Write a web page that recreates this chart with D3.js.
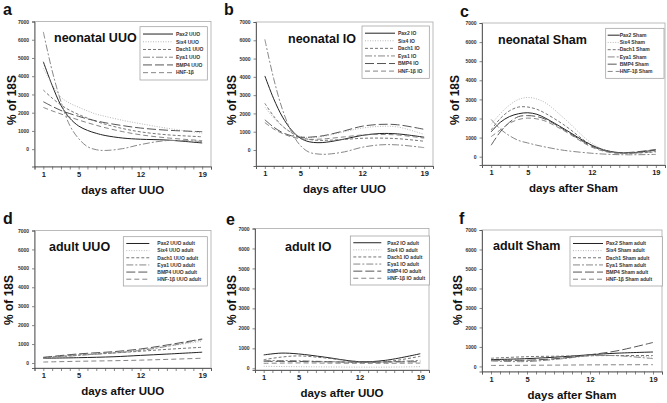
<!DOCTYPE html>
<html><head><meta charset="utf-8">
<script src="https://cdn.jsdelivr.net/npm/d3@7"></script>
<style>
html,body{margin:0;padding:0;background:#fff;}
svg{display:block;font-family:"Liberation Sans",Arial,sans-serif;}
</style></head>
<body><svg id="c" width="667" height="403"></svg>
<script>
// ---------- data ----------
const genes = ["Pax2","Six4","Dach1","Eya1","BMP4","HNF-1β"];
const xTicks = [1,5,12,19];
const yTicks = [0,1000,2000,3000,4000,5000,6000,7000];

const titles = ["neonatal UUO","neonatal IO","neonatal Sham","adult UUO","adult IO","adult Sham"];
const letters = ["a","b","c","d","e","f"];
const xLabels = ["days after UUO","days after UUO","days after Sham","days after UUO","days after UUO","days after Sham"];

const legendA = ["Pax2 UUO","Six4 UUO","Dach1 UUO","Eya1 UUO","BMP4 UUO","HNF-1β"];
const legendB = ["Pax2 IO","Six4 IO","Dach1 IO","Eya1 IO","BMP4 IO","HNF-1β IO"];
const legendC = ["Pax2 Sham","Six4 Sham","Dach1 Sham","Eya1 Sham","BMP4 Sham","HNF-1β Sham"];
const legendD = ["Pax2 UUO adult","Six4 UUO adult","Dach1 UUO adult","Eya1 UUO adult","BMP4 UUO adult","HNF-1β UUO adult"];
const legendE = ["Pax2 IO adult","Six4 IO adult","Dach1 IO adult","Eya1 IO adult","BMP4 IO adult","HNF-1β IO adult"];
const legendF = ["Pax2 Sham adult","Six4 Sham adult","Dach1 Sham adult","Eya1 Sham adult","BMP4 Sham adult","HNF-1β Sham adult"];

// days sampled and values (% of 18S) per gene, in the order of `genes`
const daysA = [1,2,3,4,5,6,7,8,10,12,15,19];
const valuesA = [
  [4790,3500,2400,1700,1270,1030,870,750,610,545,500,340],
  [4430,3550,2850,2520,2300,2100,1920,1800,1580,1400,1150,880],
  [3240,2800,2420,2130,1900,1700,1520,1370,1130,950,790,680],
  [6430,4300,2600,1300,580,140,-30,-70,30,250,470,420],
  [2600,2350,2120,1950,1800,1660,1550,1450,1290,1160,1040,960],
  [2290,2100,1930,1760,1600,1450,1310,1180,960,790,620,470]
];
const daysB = [1,2,3,4,5,6,7,8,10,12,14,16,19];
const valuesB = [
  [4050,2800,1800,1100,650,450,400,430,600,800,900,880,700],
  [2350,1750,1300,950,750,680,700,780,1000,1200,1290,1260,850],
  [2550,1850,1300,950,700,580,530,530,580,640,650,620,480],
  [6050,3900,2200,1000,250,-120,-220,-230,-100,150,280,280,130],
  [1650,1250,950,780,700,700,740,820,1050,1300,1400,1380,1130],
  [1500,1150,900,720,620,580,590,620,720,820,850,820,650]
];
const daysC = [1,2,3,4,5,6,7,9,12,14,16,19];
const valuesC = [
  [1300,1800,2100,2250,2300,2220,2000,1450,600,280,200,350],
  [1700,2250,2700,3000,3100,3020,2800,2000,700,260,180,300],
  [1400,2000,2400,2600,2600,2480,2250,1650,600,250,180,250],
  [1950,1450,1100,850,720,600,500,330,180,120,100,120],
  [600,1300,1800,2100,2150,2100,1950,1400,550,250,220,380],
  [1050,1400,1750,1950,2020,1980,1850,1350,500,220,180,280]
];
const daysD = [1,5,9,12,15,19];
const valuesD = [
  [250,280,330,400,470,570],
  [300,430,560,700,880,1150],
  [280,420,530,620,720,830],
  [250,400,530,660,880,1240],
  [300,480,600,740,950,1270],
  [50,90,120,150,190,250]
];
const daysE = [1,3,5,8,12,15,19];
const valuesE = [
  [670,760,720,560,330,400,730],
  [100,90,80,70,60,60,80],
  [430,560,620,520,330,330,600],
  [380,390,380,340,300,320,400],
  [350,345,340,325,310,315,330],
  [250,260,270,260,250,250,260]
];
const daysF = [1,5,9,12,15,19];
const valuesF = [
  [350,400,500,600,680,740],
  [300,300,420,550,560,480],
  [420,500,530,550,560,560],
  [280,250,400,550,550,400],
  [330,320,430,600,800,1230],
  [50,60,70,80,85,90]
];

// ---------- layout ----------
const layout = [
  {L:34.5,R:211,T:21.5,B:166.5,yMin:-950, let:[3,15], tit:[54,42], yl:[12,100], leg:[140,26.7,207.3,80,3,30,36]},
  {L:256,R:433,T:22,B:166,yMin:-875, let:[224,15], tit:[288,43], yl:[232,100], leg:[362,26,429.3,78.3,3,30,36]},
  {L:482,R:665,T:23,B:165,yMin:-435, let:[460,17], tit:[498,44], yl:[455,100], leg:[605.7,28.3,664,78.3,2,12,14]},
  {L:34.5,R:211,T:230.5,B:368,yMin:-265, let:[3,224], tit:[49,251], yl:[9,300], leg:[123.3,236.7,207.3,286,3,23,34]},
  {L:255,R:429,T:228.5,B:370,yMin:-85, let:[226,225], tit:[285,251], yl:[232,300], leg:[350.3,236,429.3,285,3,28,37]},
  {L:482,R:662,T:230,B:371.5,yMin:-260, let:[459,224], tit:[493,250], yl:[458,300], leg:[570,236.7,662.3,286,3,30,36]}
];
const styles = [
  {c:"#222", d:null, w:1},
  {c:"#b8b8b8", d:"1,1.5", w:1},
  {c:"#666", d:"3,2", w:0.9},
  {c:"#888", d:"7,2,2,2", w:1},
  {c:"#555", d:"9,3", w:1},
  {c:"#777", d:"5,3", w:0.9}
];

const panels = [
  {days:daysA, vals:valuesA, legend:legendA},
  {days:daysB, vals:valuesB, legend:legendB},
  {days:daysC, vals:valuesC, legend:legendC},
  {days:daysD, vals:valuesD, legend:legendD},
  {days:daysE, vals:valuesE, legend:legendE},
  {days:daysF, vals:valuesF, legend:legendF}
];

const svg = d3.select("#c");

panels.forEach((p,i)=>{
  const lo = layout[i];
  const x = d3.scaleLinear().domain([0,20]).range([lo.L,lo.R]);
  const y = d3.scaleLinear().domain([lo.yMin,7000]).range([lo.B,lo.T]);
  const g = svg.append("g");

  // frame
  g.append("rect").attr("x",lo.L).attr("y",lo.T).attr("width",lo.R-lo.L).attr("height",lo.B-lo.T)
    .attr("fill","none").attr("stroke","#aaa").attr("stroke-width",0.8);

  // x axis with minor ticks
  const xa = d3.axisBottom(x).tickValues(d3.range(0,21)).tickSize(3)
    .tickFormat(d=> xTicks.includes(d) ? d : "");
  const gx = g.append("g").attr("transform",`translate(0,${lo.B})`).call(xa);
  gx.select(".domain").attr("stroke","#555").attr("stroke-width",0.9);
  gx.selectAll(".tick line").attr("stroke","#555").attr("stroke-width",0.7);
  gx.selectAll("text").attr("font-size",7.5).attr("font-weight","bold").attr("fill","#222").attr("dy","0.95em").attr("y",3);

  // y axis
  const ya = d3.axisLeft(y).tickValues(yTicks).tickSize(2.5).tickPadding(3).tickFormat(d3.format("d"));
  const gy = g.append("g").attr("transform",`translate(${lo.L},0)`).call(ya);
  gy.select(".domain").attr("stroke","#555").attr("stroke-width",0.9);
  gy.selectAll(".tick line").attr("stroke","#555").attr("stroke-width",0.7);
  gy.selectAll("text").attr("font-size",5).attr("font-weight","bold").attr("fill","#333");

  // curves
  const line = d3.line().x(d=>x(d[0])).y(d=>y(d[1])).curve(d3.curveCatmullRom.alpha(0.5));
  p.vals.forEach((vs,k)=>{
    const s = styles[k];
    g.append("path").datum(p.days.map((d,j)=>[d,vs[j]]))
      .attr("d",line).attr("fill","none").attr("stroke",s.c).attr("stroke-width",s.w)
      .attr("stroke-dasharray",s.d);
  });

  // legend
  const [lx0,ly0,lx1,ly1,sOff,sLen,tOff] = lo.leg;
  g.append("rect").attr("x",lx0).attr("y",ly0).attr("width",lx1-lx0).attr("height",ly1-ly0)
    .attr("fill","#fff").attr("stroke","#999").attr("stroke-width",0.7);
  const rowH = (ly1-ly0)/6.9;
  p.legend.forEach((t,k)=>{
    const yy = ly0 + rowH*(k+0.95);
    const s = styles[k];
    g.append("line").attr("x1",lx0+sOff).attr("x2",lx0+sOff+sLen).attr("y1",yy).attr("y2",yy)
      .attr("stroke",s.c).attr("stroke-width",s.w).attr("stroke-dasharray",s.d);
    g.append("text").attr("x",lx0+tOff).attr("y",yy+1.8).attr("font-size",5).attr("font-weight","bold")
      .attr("fill","#333").text(t);
  });

  // titles
  g.append("text").attr("x",lo.tit[0]).attr("y",lo.tit[1]).attr("font-size",12.5).attr("font-weight","bold")
    .attr("fill","#111").text(titles[i]);
  g.append("text").attr("x",lo.let[0]).attr("y",lo.let[1]).attr("font-size",16).attr("font-weight","bold")
    .attr("fill","#111").text(letters[i]);
  g.append("text").attr("x",(lo.L+lo.R)/2).attr("y",lo.B+27).attr("text-anchor","middle")
    .attr("font-size",11.5).attr("font-weight","bold").attr("fill","#111").text(xLabels[i]);
  g.append("text").attr("transform",`translate(${lo.yl[0]+4},${lo.yl[1]}) rotate(-90)`).attr("text-anchor","middle")
    .attr("font-size",12).attr("font-weight","bold").attr("fill","#111").text("% of 18S");
});
</script></body></html>
